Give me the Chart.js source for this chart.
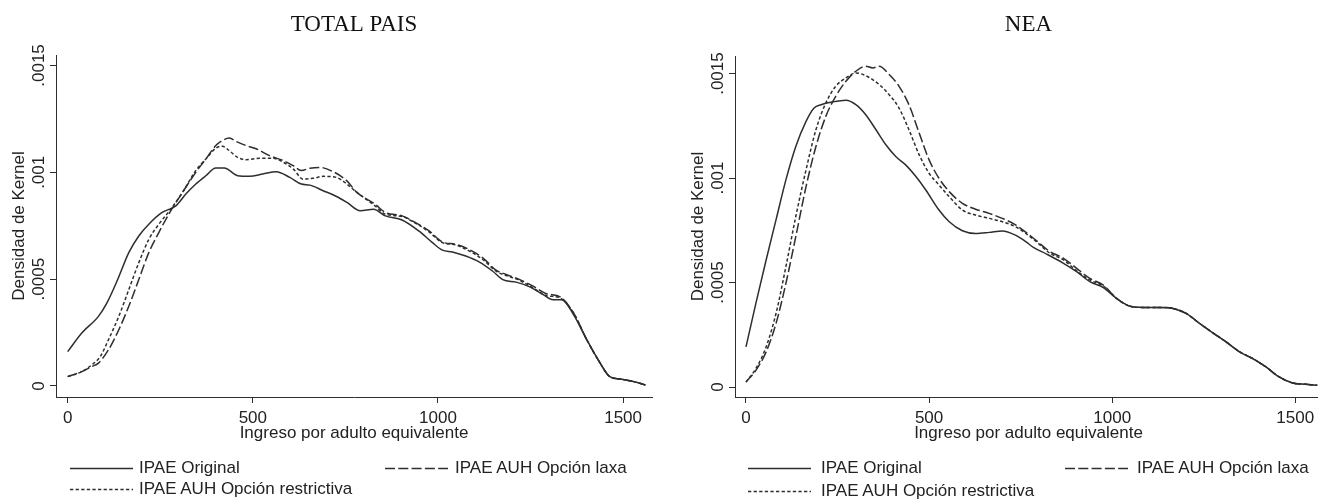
<!DOCTYPE html>
<html>
<head>
<meta charset="utf-8">
<script src="https://cdn.jsdelivr.net/npm/chart.js@4.4.1/dist/chart.umd.min.js"></script>
<style>
  body { margin: 0; width: 1318px; height: 500px; overflow: hidden; background: #fff; position: relative;
         font-family: 'Liberation Sans', Arial, sans-serif; }
  .panel { position: absolute; top: 0; height: 500px; }
  .leg { position: absolute; height: 20px; line-height: 20px; font-size: 17px; color: #222; white-space: nowrap; }
  .leg svg { position: absolute; left: 0; top: 0; }
</style>
</head>
<body>
<div class="panel" style="left:0;width:660px"><canvas id="pais" width="660" height="500"></canvas></div>
<div class="panel" style="left:660px;width:670px"><canvas id="nea" width="670" height="500"></canvas></div>
<div id="legends"></div>
<script>
// nombres y estilos de las series
const seriesNames = ['IPAE Original', 'IPAE AUH Opción laxa', 'IPAE AUH Opción restrictiva']
const dashes = [[], [10, 3.3], [3.3, 2.3]]

const xTicks = [0, 500, 1000, 1500]
const yTicks = [0, 0.0005, 0.001, 0.0015]
const yTickLabels = ['0', '.0005', '.001', '.0015']

// TOTAL PAIS
const paisOrigX = [0, 38, 83, 106, 133, 165, 192, 219, 255, 292,
  319, 346, 373, 400, 423, 459, 491, 527, 563, 600,
  631, 654, 690, 726, 754, 790, 826, 858, 903, 948,
  985, 1012, 1039, 1075, 1112, 1148, 1175, 1211, 1248, 1284,
  1311, 1334, 1366, 1402, 1438, 1464, 1492, 1529, 1560]
const paisOrigY = [.000161, .000248, .000326, .000389, .00049, .000624, .000702, .000757, .000812, .000843,
  .000898, .000945, .000984, .00102, .00102, .000984, .000981, .000992, .001003, .000976,
  .000945, .00094, .000914, .000887, .000859, .00082, .000827, .000796, .000777, .000726,
  .000671, .000636, .000627, .000608, .00058, .000537, .000498, .000486, .000464, .000428,
  .000404, .000404, .000334, .000216, .000107, .0000439, .0000329, .0000204, .0000047]

const paisLaxaX = [0, 38, 65, 83, 110, 138, 165, 192, 219, 246,
  273, 310, 346, 373, 400, 418, 436, 459, 482, 509,
  545, 582, 609, 631, 654, 681, 717, 754, 781, 830,
  858, 903, 939, 976, 1012, 1048, 1084, 1121, 1157, 1184,
  1221, 1257, 1293, 1330, 1366, 1402, 1438, 1464, 1492, 1529,
  1560]
const paisLaxaY = [.0000439, .0000674, .0000909, .000107, .000169, .000263, .000373, .000498, .000624, .000718,
  .000804, .000906, .001, .001062, .001125, .001149, .00116, .001141, .001125, .00111,
  .001078, .001055, .001031, .001008, .001019, .001023, .001003, .00096, .000906, .000851,
  .000812, .000796, .000765, .000726, .000674, .000663, .000639, .0006, .000542, .000522,
  .000498, .000467, .000432, .000417, .000342, .000216, .000107, .0000439, .0000329, .0000204,
  .0000047]

const paisRestX = [0, 38, 65, 88, 110, 138, 165, 192, 219, 246,
  278, 310, 346, 373, 400, 418, 436, 459, 482, 518,
  554, 582, 609, 636, 663, 690, 726, 754, 781, 830,
  858, 903, 939, 976, 1012, 1048, 1084, 1121, 1157, 1184,
  1221, 1257, 1293, 1330, 1366, 1402, 1438, 1464, 1492, 1529,
  1560]
const paisRestY = [.0000439, .0000674, .0000987, .000138, .000216, .000326, .000451, .000577, .000686, .000757,
  .000827, .000906, .001008, .001062, .001113, .001122, .001102, .00107, .001059, .001066,
  .001066, .001047, .001016, .000968, .000972, .000981, .000976, .000945, .000906, .000843,
  .000804, .000793, .000762, .000721, .000671, .00066, .000632, .000592, .000537, .000517,
  .000494, .000459, .000423, .000412, .000342, .000216, .000107, .0000439, .0000329, .0000204,
  .0000047]

// NEA
const neaOrigX = [0, 27, 55, 82, 109, 136, 164, 186, 205, 236,
  273, 300, 327, 355, 382, 409, 436, 464, 491, 527,
  555, 591, 627, 664, 700, 736, 764, 785, 821, 867,
  903, 939, 976, 1012, 1048, 1084, 1130, 1166, 1202, 1239,
  1275, 1311, 1348, 1384, 1420, 1456, 1493, 1529, 1560]
const neaOrigY = [.000192, .0004, .000608, .0008, .000991, .001151, .001271, .001335, .001351, .001364,
  .001372, .001351, .001303, .001231, .001159, .001103, .001063, .001007, .000943, .000847,
  .000791, .000748, .000735, .00074, .000747, .000727, .000696, .000668, .000636, .000592,
  .000552, .000504, .000476, .000424, .000387, .000381, .000381, .000376, .000352, .000304,
  .000259, .000216, .000168, .000136, .0000959, .000048, .0000192, .0000128, .000008]

const neaLaxaX = [0, 27, 55, 82, 109, 136, 164, 191, 218, 245,
  273, 300, 327, 346, 364, 391, 418, 445, 473, 500,
  527, 555, 591, 627, 664, 700, 736, 785, 830, 867,
  903, 939, 976, 1012, 1048, 1084, 1130, 1166, 1202, 1239,
  1275, 1311, 1348, 1384, 1420, 1456, 1493, 1529, 1560]
const neaLaxaY = [.000024, .00008, .000168, .000304, .000496, .00072, .000959, .001151, .001295, .001391,
  .001463, .001511, .001535, .001527, .001535, .001495, .001439, .001351, .001215, .001087,
  .000999, .000935, .000879, .000851, .000831, .000807, .000776, .000712, .000648, .000616,
  .000568, .00052, .000488, .000424, .000387, .000381, .000381, .000376, .000352, .000304,
  .000259, .000216, .000168, .000136, .0000959, .000048, .0000192, .0000128, .000008]

const neaRestX = [0, 27, 55, 82, 109, 136, 164, 191, 218, 245,
  273, 300, 327, 364, 391, 418, 445, 473, 500, 527,
  555, 591, 627, 664, 700, 736, 785, 830, 867, 903,
  939, 976, 1012, 1048, 1084, 1130, 1166, 1202, 1239, 1275,
  1311, 1348, 1384, 1420, 1456, 1493, 1529, 1560]
const neaRestY = [.000024, .000088, .000192, .000352, .000576, .000816, .001039, .001231, .001359, .001439,
  .001479, .001503, .00149, .001447, .001399, .001335, .001231, .001111, .001023, .000967,
  .000911, .000847, .000823, .000807, .000791, .000767, .000707, .00064, .000608, .000556,
  .000512, .000483, .000424, .000387, .000381, .000381, .000376, .000352, .000304, .000259,
  .000216, .000168, .000136, .0000959, .000048, .0000192, .0000128, .000008]

const sans = 'Liberation Sans'
const ink = '#2e2e2e'

// titulo del panel y etiquetas verticales del eje y (estilo Stata)
const panelText = {
  id: 'panelText',
  afterDraw(chart, args, opts) {
    const ctx = chart.ctx
    const area = chart.chartArea
    const y = chart.scales.y
    ctx.save()
    ctx.textAlign = 'center'
    ctx.textBaseline = 'middle'
    ctx.fillStyle = '#111'
    ctx.font = '23px "Liberation Serif"'
    ctx.fillText(opts.title, (area.left + area.right) / 2, 25)
    ctx.fillStyle = '#222'
    ctx.font = '17px "' + sans + '"'
    yTicks.forEach((v, i) => {
      ctx.save()
      ctx.translate(area.left - 17, y.getPixelForValue(v))
      ctx.rotate(-Math.PI / 2)
      ctx.fillText(yTickLabels[i], 0, 0)
      ctx.restore()
    })
    ctx.restore()
  }
}

const makeChart = (id, title, xs, ys, xMin, xMax, yMin, yMax, pad) => {
  return new Chart(document.getElementById(id), {
    type: 'line',
    data: {
      datasets: xs.map((xArr, i) => ({
        label: seriesNames[i],
        data: xArr.map((x, j) => ({x: x, y: ys[i][j]})),
        borderColor: ink,
        borderWidth: 1.5,
        borderDash: dashes[i],
        pointRadius: 0,
        fill: false,
        cubicInterpolationMode: 'monotone'
      }))
    },
    options: {
      responsive: false,
      animation: false,
      events: [],
      layout: { padding: pad },
      plugins: {
        legend: { display: false },
        tooltip: { enabled: false },
        panelText: { title: title }
      },
      scales: {
        x: {
          type: 'linear',
          min: xMin,
          max: xMax,
          afterBuildTicks: (s) => { s.ticks = xTicks.map(v => ({value: v})) },
          afterFit: (s) => { s.height = 47 },
          grid: { drawOnChartArea: false, tickLength: 6, color: ink },
          border: { color: ink },
          ticks: { callback: (v) => String(v), color: '#222', padding: 5, maxRotation: 0,
                   font: { family: sans, size: 17 } },
          title: { display: true, text: 'Ingreso por adulto equivalente', color: '#222',
                   font: { family: sans, size: 17 }, padding: { top: 0, bottom: 0 } }
        },
        y: {
          min: yMin,
          max: yMax,
          afterBuildTicks: (s) => { s.ticks = yTicks.map(v => ({value: v})) },
          afterFit: (s) => { s.width = 56 },
          grid: { drawOnChartArea: false, tickLength: 6, color: ink },
          border: { color: ink },
          ticks: { color: 'rgba(0,0,0,0)', font: { family: sans, size: 17 } },
          title: { display: true, text: 'Densidad de Kernel', color: '#222',
                   font: { family: sans, size: 17 }, padding: { top: 9, bottom: 0 } }
        }
      }
    },
    plugins: [panelText]
  })
}

makeChart('pais', 'TOTAL PAIS',
  [paisOrigX, paisLaxaX, paisRestX], [paisOrigY, paisLaxaY, paisRestY],
  -31.6, 1578, -0.0000515, 0.001549,
  { left: 0, right: 8, top: 55, bottom: 56 })

makeChart('nea', 'NEA',
  [neaOrigX, neaLaxaX, neaRestX], [neaOrigY, neaLaxaY, neaRestY],
  -30, 1573, -0.0000478, 0.001584,
  { left: 19, right: 8, top: 56, bottom: 56 })

// leyendas en dos columnas, como en el original: [x, y centro, desplazamiento del texto]
const legendSpots = [
  [[70, 468, 69], [385, 468, 70], [70, 489, 69]],
  [[748, 468, 73], [1065, 468, 72], [748, 491, 73]]
]
let html = ''
legendSpots.forEach(spots => {
  spots.forEach((p, i) => {
    html += '<div class="leg" style="left:' + p[0] + 'px;top:' + (p[1] - 10) + 'px;padding-left:' + p[2] + 'px">' +
      '<svg width="63" height="20"><line x1="0" y1="10.5" x2="63" y2="10.5" stroke="' + ink +
      '" stroke-width="1.5" stroke-dasharray="' + (dashes[i].length ? dashes[i].join(' ') : 'none') + '"/></svg>' +
      seriesNames[i] + '</div>'
  })
})
document.getElementById('legends').innerHTML = html
</script>
</body>
</html>
